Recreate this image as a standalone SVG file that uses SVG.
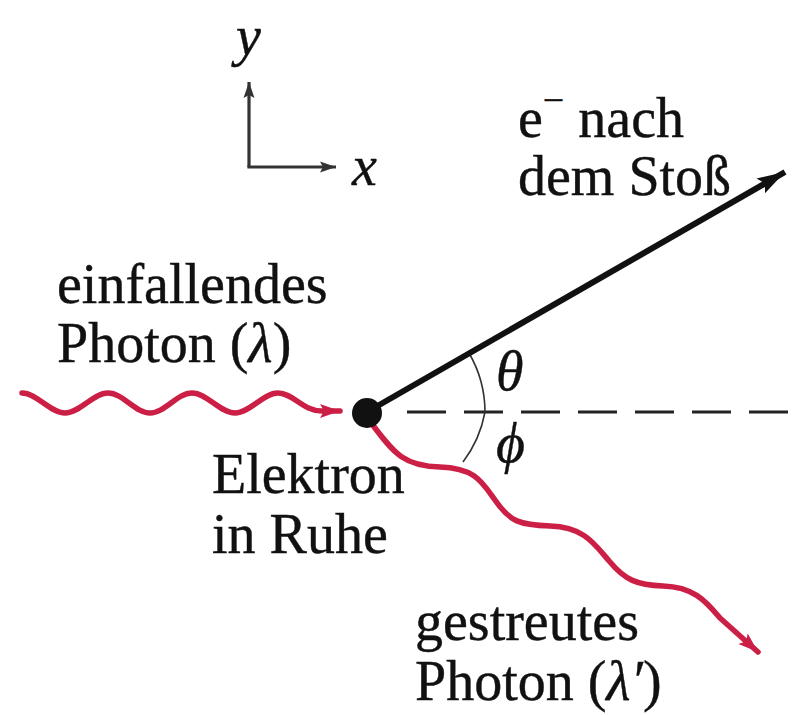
<svg xmlns="http://www.w3.org/2000/svg" width="793" height="715" viewBox="0 0 793 715">
<style>
.t{font-family:"Liberation Serif","DejaVu Serif",serif;font-size:56px;fill:#111;stroke:#111;stroke-width:0.4}
.i{font-style:italic}
.red{fill:none;stroke:#cc1f45;stroke-width:5.5;stroke-linecap:round;stroke-linejoin:round}
.ax{stroke:#333;stroke-width:3.2;fill:none}
</style>
<defs>
<marker id="ha" markerUnits="userSpaceOnUse" markerWidth="32" markerHeight="20" refX="28" refY="8.5" orient="auto" viewBox="0 0 32 17">
<path d="M0 0 L28 8.5 L0 17 L5 8.5 Z" fill="#111"/>
</marker>
<marker id="hr" markerUnits="userSpaceOnUse" markerWidth="22" markerHeight="16" refX="20" refY="7" orient="auto" viewBox="0 0 22 14">
<path d="M0 0 L20 7 L0 14 L4 7 Z" fill="#cc1f45"/>
</marker>
<marker id="hx" markerUnits="userSpaceOnUse" markerWidth="18" markerHeight="12" refX="16" refY="5.5" orient="auto" viewBox="0 0 18 11">
<path d="M0 0 L16 5.5 L0 11 L3 5.5 Z" fill="#333"/>
</marker>
</defs>
<rect width="793" height="715" fill="#ffffff"/>
<g id="axes">
<path class="ax" d="M249 167 L249 82" marker-end="url(#hx)"/>
<path class="ax" d="M247.4 167 L336 167" marker-end="url(#hx)"/>
<text class="t i" x="236" y="55">y</text>
<text class="t i" x="352" y="185">x</text>
</g>
<g id="connectors">
<path d="M407 412 L793 412" stroke="#222" stroke-width="3" stroke-dasharray="39 18" fill="none"/>
<path d="M469 353 A118 118 0 0 1 485 412 A118 118 0 0 1 463 462" fill="none" stroke="#333" stroke-width="1.6"/>
<path d="M367 412 L785 172" stroke="#111" stroke-width="6" fill="none" marker-end="url(#ha)"/>
<path class="red" d="M22 393 C37 393,50 413,65 413 S93 393,108 393 S135 413,150 413 S177 393,192 393 S220 413,235 413 S263 393,278 393 S303 411,322 411 L340 411" marker-end="url(#hr)"/>
<path class="red" d="M372 424 C395 455,405 466,440 467 C475 468,482 482,495 500 C510 522,520 525,550 526 C585 527,595 545,610 562 C625 580,637 585,663 586 C693 587,705 600,720 618 L758 652" marker-end="url(#hr)"/>
</g>
<g id="electron">
<circle cx="367" cy="413" r="15" fill="#111"/>
</g>
<g id="labels">
<text class="t" x="518" y="137">e<tspan dy="-24" font-size="38">−</tspan><tspan dy="24"> nach</tspan></text>
<text class="t" x="518" y="195">dem Stoß</text>
<text class="t" x="57" y="303">einfallendes</text>
<text class="t" x="57" y="362">Photon (<tspan class="i">λ</tspan>)</text>
<text class="t i" x="496" y="390">θ</text>
<text class="t i" x="496" y="462">ϕ</text>
<text class="t" x="212" y="493">Elektron</text>
<text class="t" x="212" y="553">in Ruhe</text>
<text class="t" x="415" y="640">gestreutes</text>
<text class="t" x="415" y="700">Photon (<tspan class="i">λ′</tspan>)</text>
</g>
</svg>
